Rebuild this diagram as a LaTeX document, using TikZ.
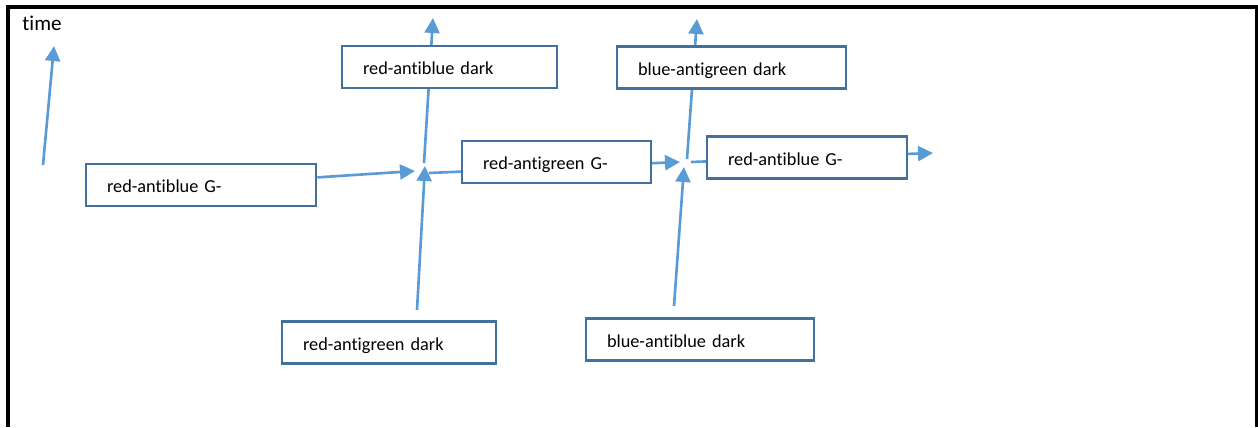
\documentclass[tikz,border=0pt]{standalone}
\usepackage{fontspec}
\setmainfont{Carlito}[Ligatures={NoCommon,NoContextual,NoRare}]
\usepackage{tikz}
\usetikzlibrary{arrows.meta}
\usetikzlibrary{backgrounds}
\definecolor{linkblue}{HTML}{5B9BD5}
\definecolor{boxblue}{HTML}{41719C}

\begin{document}
\begin{tikzpicture}[x=0.02cm, y=0.02cm, yscale=-1,
	colourbox/.style={draw=boxblue, fill=white, line width=1.5pt, shape=rectangle, inner xsep=0.42cm, minimum height=0.84cm, text height=9pt, text depth=0pt, align=left, font=\fontsize{10.4}{12}\selectfont},
	link/.style={draw=linkblue, line width=1.5pt, fill=none, -{Triangle[length=0.3cm, width=0.3cm]}}]
	\useasboundingbox (0, 0) rectangle (1258, 427);
	\draw [line width=1.9pt] (8, 427) -- (8, 7) -- (1257, 7) -- (1257, 427);

	\node [font=\fontsize{12}{14}\selectfont, inner sep=0pt] (time) at (42, 23) {time};

	\node [colourbox, minimum width=4.6cm, text width=3.76cm] (rabG) at (201, 185) {red-antiblue G-};
	\node [colourbox, minimum width=4.3cm, text width=3.46cm] (rabD) at (449.5, 67) {red-antiblue dark};
	\node [colourbox, minimum width=3.78cm, text width=2.94cm] (ragG) at (556.5, 162) {red-antigreen G-};
	\node [colourbox, minimum width=4.58cm, text width=3.74cm] (bagD) at (731.5, 67.5) {blue-antigreen dark};
	\node [colourbox, minimum width=4.0cm, text width=3.16cm] (rabGtwo) at (807, 157.5) {red-antiblue G-};
	\node [colourbox, minimum width=4.28cm, text width=3.44cm] (ragD) at (389, 342.5) {red-antigreen dark};
	\node [colourbox, minimum width=4.56cm, text width=3.72cm] (babD) at (700, 339.5) {blue-antiblue dark};

	\coordinate (time0) at (43, 165);
	\coordinate (time1) at (54, 46);

	\coordinate (in1) at (415, 171);
	\coordinate (low1) at (417, 310);
	\coordinate (up1) at (425, 166);
	\coordinate (v1) at (424, 163);
	\coordinate (top1) at (433, 18);
	\coordinate (v1h) at (429, 173);

	\coordinate (in2) at (680, 162);
	\coordinate (low2) at (674, 306);
	\coordinate (up2) at (684, 167);
	\coordinate (v2) at (687, 159);
	\coordinate (top2) at (697, 19);
	\coordinate (v2h) at (691, 162);
	\coordinate (out2) at (933, 153);

	\draw [link] (time0) to (time1);

	\draw [link] (rabG) to (in1);
	\draw [link] (low1) to (up1);
	\draw [link] (low2) to (up2);

	\begin{pgfonlayer}{background}
		\draw [link] (v1) to (top1);
		\draw [link] (v1h) to (in2);
		\draw [link] (v2) to (top2);
		\draw [link] (v2h) to (out2);
	\end{pgfonlayer}
\end{tikzpicture}
\end{document}
